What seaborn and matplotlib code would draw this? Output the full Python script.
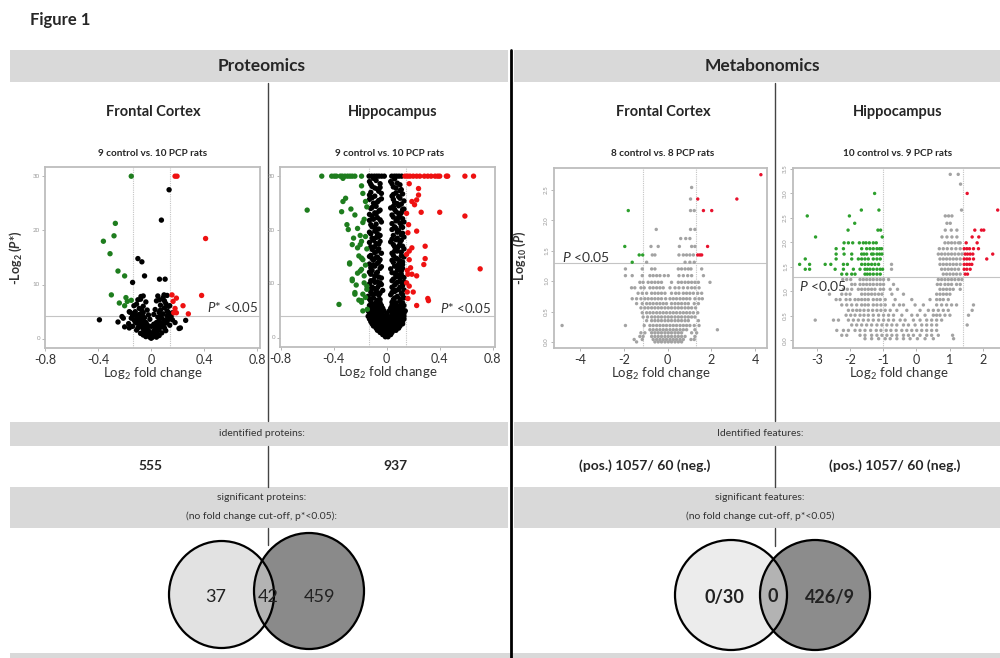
import numpy as np
import pandas as pd
import matplotlib.pyplot as plt
from matplotlib.patches import Rectangle, Ellipse
import seaborn as sns

# ============================================
# DATA
# ============================================

# proteomics, frontal cortex: (log2 fold change, -log2 p*)
prot_fc_ns = [
    (0.00, 0.1), (-0.01, 0.3), (0.01, 0.3), (-0.02, 0.6), (0.02, 0.6), (-0.03, 0.9), (0.03, 0.9),
    (-0.04, 1.2), (0.04, 1.2), (-0.01, 1.0), (0.01, 1.0), (-0.05, 1.5), (0.05, 1.5), (-0.02, 1.5),
    (0.02, 1.5), (-0.06, 1.8), (0.06, 1.8), (-0.03, 2.0), (0.03, 2.0), (-0.07, 2.2), (0.07, 2.2),
    (-0.09, 2.4), (0.09, 2.4), (-0.05, 2.5), (0.05, 2.5), (-0.08, 2.8), (0.08, 2.8), (-0.11, 2.9),
    (0.11, 2.9), (-0.04, 3.0), (0.04, 3.0), (-0.06, 3.2), (0.06, 3.3), (-0.10, 3.4), (0.10, 3.4),
    (-0.13, 3.5), (0.13, 3.6), (-0.08, 3.7), (0.08, 3.8), (-0.05, 3.9), (0.05, 4.0), (-0.11, 4.1),
    (0.12, 4.2), (-0.14, 4.3), (0.15, 4.1), (-0.09, 4.5), (0.09, 4.6), (-0.06, 4.8), (0.06, 4.9),
    (-0.12, 5.0), (0.12, 5.1), (-0.03, 5.3), (0.03, 5.4), (-0.09, 5.6), (0.10, 5.7), (-0.06, 6.0),
    (0.07, 6.2), (-0.11, 6.4), (0.11, 6.5), (-0.04, 6.8), (0.04, 7.0), (-0.08, 7.3), (0.09, 7.6),
    (-0.06, 7.9), (0.12, 8.0), (0.05, 7.9), (-0.03, 2.6), (0.02, 2.7), (-0.15, 3.8), (0.16, 3.5),
    (-0.17, 2.8), (0.18, 3.0), (-0.20, 2.2), (0.21, 1.9), (0.14, 2.5), (-0.14, 2.3), (0.11, 1.5),
    (-0.11, 1.6), (0.08, 1.1), (-0.08, 1.0), (0.06, 0.6), (-0.06, 0.7), (0.04, 0.3), (-0.04, 0.4),
    (0.16, 4.8), (-0.16, 4.9), (0.13, 6.0), (-0.13, 6.1), (0.10, 7.0), (-0.10, 7.2), (0.02, 4.5),
    (-0.02, 4.4), (0.07, 5.3), (-0.07, 5.2), (-0.12, 3.1), (0.12, 3.2), (-0.10, 2.0), (0.10, 2.0),
    (-0.07, 4.2), (0.07, 4.3), (-0.13, 4.7), (0.14, 4.6), (0.00, 2.3), (-0.01, 3.6),
    (0.135, 27.5), (0.077, 21.9), (-0.10, 14.8), (-0.07, 14.2), (-0.05, 11.6), (-0.14, 10.4),
    (0.063, 11.0), (0.105, 11.0), (-0.39, 3.5), (-0.25, 3.1), (-0.22, 4.1), (0.26, 3.4),
    (0.22, 2.0), (-0.165, 2.0), (-0.077, 7.8), (0.097, 8.1), (0.063, 7.2), (0.14, 6.1),
    (0.124, 5.0), (-0.165, 5.0), (-0.21, 3.8),
]
prot_fc_down = [
    (-0.15, 30.0), (-0.27, 21.3), (-0.28, 19.0), (-0.36, 18.0), (-0.31, 15.7), (-0.25, 12.5),
    (-0.20, 11.6), (-0.30, 8.1), (-0.19, 7.6), (-0.24, 6.6), (-0.20, 6.1), (-0.15, 7.1), (-0.18, 6.9),
]
prot_fc_up = [
    (0.18, 30.0), (0.195, 30.0), (0.41, 18.5), (0.38, 8.0), (0.157, 8.1), (0.19, 7.5),
    (0.165, 6.9), (0.24, 6.1), (0.18, 5.6), (0.17, 4.8), (0.19, 4.8), (0.28, 4.6),
]

# proteomics, hippocampus
prot_hc_ns = [
    (-0.133, 30.0), (-0.113, 30.0), (-0.093, 30.0), (-0.075, 30.0), (-0.058, 30.0), (-0.038, 30.0),
    (-0.018, 30.0), (0.038, 30.0), (0.058, 30.0), (0.075, 30.0), (0.093, 30.0), (0.113, 30.0),
    (-0.13, 29.0), (-0.08, 29.2), (-0.05, 28.6), (-0.11, 28.1), (-0.07, 27.6), (-0.12, 27.0),
    (-0.04, 26.8), (-0.09, 26.3), (-0.13, 25.7), (-0.06, 25.5), (-0.10, 25.0), (-0.08, 24.4),
    (-0.12, 24.0), (-0.05, 23.7), (-0.09, 23.2), (-0.11, 22.6), (-0.07, 22.3), (-0.13, 21.8),
    (-0.04, 21.5), (-0.08, 21.1), (-0.11, 20.6), (-0.06, 20.2), (-0.09, 19.8), (-0.12, 19.3),
    (-0.05, 19.0), (-0.08, 18.6), (-0.10, 18.1), (-0.13, 17.7), (-0.06, 17.4), (-0.09, 16.9),
    (-0.11, 16.4), (-0.07, 16.1), (-0.04, 15.7), (-0.12, 15.3), (-0.08, 14.9), (-0.10, 14.4),
    (-0.06, 14.1), (-0.13, 13.7), (-0.09, 13.3), (-0.05, 12.9), (-0.11, 12.5), (-0.07, 12.2),
    (-0.12, 11.8), (-0.09, 11.4), (-0.04, 11.1), (-0.10, 10.7), (-0.07, 10.4), (-0.13, 10.0),
    (-0.06, 9.7), (-0.11, 9.4), (-0.08, 9.0), (-0.03, 8.8), (-0.12, 8.5), (-0.09, 8.2),
    (-0.06, 7.9), (-0.14, 7.7), (-0.10, 7.4), (-0.05, 7.1), (-0.12, 6.8), (-0.08, 6.6),
    (0.03, 29.0), (0.08, 28.7), (0.05, 28.0), (0.11, 27.5), (0.07, 26.9), (0.04, 26.3),
    (0.10, 25.9), (0.13, 25.4), (0.06, 25.1), (0.09, 24.5), (0.03, 24.1), (0.12, 23.8),
    (0.07, 23.4), (0.10, 22.8), (0.05, 22.4), (0.08, 21.9), (0.13, 21.5), (0.04, 21.2),
    (0.11, 20.7), (0.07, 20.3), (0.09, 19.9), (0.12, 19.4), (0.05, 19.0), (0.08, 18.5),
    (0.11, 18.1), (0.03, 17.8), (0.10, 17.3), (0.06, 16.9), (0.13, 16.5), (0.08, 16.1),
    (0.04, 15.7), (0.11, 15.2), (0.07, 14.8), (0.10, 14.3), (0.05, 14.0), (0.12, 13.6),
    (0.08, 13.2), (0.03, 12.8), (0.11, 12.4), (0.06, 12.0), (0.09, 11.6), (0.13, 11.2),
    (0.05, 10.9), (0.10, 10.5), (0.07, 10.1), (0.12, 9.7), (0.04, 9.4), (0.09, 9.0),
    (0.06, 8.6), (0.11, 8.3), (0.03, 8.0), (0.08, 7.7), (0.13, 7.4), (0.05, 7.1),
    (0.10, 6.8), (0.07, 6.5),
    (-0.10, 29.6), (-0.06, 27.2), (-0.11, 26.0), (-0.08, 23.0), (-0.12, 21.0), (-0.06, 18.8),
    (-0.10, 16.8), (-0.07, 15.0), (-0.12, 13.0), (-0.05, 10.2), (-0.10, 9.2), (-0.07, 8.4),
    (-0.04, 25.8), (-0.09, 20.5), (-0.05, 14.5),
    (0.06, 29.5), (0.10, 27.3), (0.05, 25.7), (0.09, 23.1), (0.06, 20.6), (0.11, 19.1),
    (0.09, 17.0), (0.05, 15.3), (0.10, 13.0), (0.07, 11.3), (0.12, 10.0), (0.05, 8.9),
    (0.08, 24.9), (0.12, 22.1), (0.04, 18.3),
    (-0.12, 28.5), (-0.05, 27.9), (-0.09, 27.8), (-0.13, 26.5), (-0.07, 25.2), (-0.11, 24.2),
    (-0.06, 23.5), (-0.13, 22.9), (-0.10, 22.0), (-0.05, 21.9), (-0.08, 20.0), (-0.13, 19.6),
    (-0.07, 19.3), (-0.11, 18.5), (-0.05, 17.9), (-0.08, 17.5), (-0.12, 16.9), (-0.06, 16.5),
    (-0.09, 15.8), (-0.13, 15.1), (-0.11, 14.7), (-0.07, 13.8), (-0.10, 13.5), (-0.04, 13.2),
    (-0.13, 12.2), (-0.08, 11.9), (-0.06, 11.3), (-0.12, 10.6), (-0.09, 10.3), (-0.04, 9.9),
    (-0.12, 9.0), (-0.07, 9.3), (-0.11, 8.1), (-0.05, 8.3), (-0.13, 7.2), (-0.07, 7.0),
    (-0.11, 6.3), (-0.05, 6.5),
    (0.04, 28.6), (0.10, 28.4), (0.07, 27.8), (0.12, 26.7), (0.05, 26.6), (0.09, 26.2),
    (0.11, 24.8), (0.05, 24.4), (0.13, 23.9), (0.06, 23.8), (0.11, 23.2), (0.04, 22.8),
    (0.09, 22.4), (0.07, 21.7), (0.10, 21.3), (0.12, 20.5), (0.04, 20.1), (0.08, 19.6),
    (0.13, 18.7), (0.07, 18.2), (0.10, 17.8), (0.05, 17.3), (0.12, 17.0), (0.08, 16.6),
    (0.06, 16.1), (0.11, 15.9), (0.13, 15.0), (0.08, 14.6), (0.04, 14.4), (0.12, 14.1),
    (0.09, 13.7), (0.06, 13.3), (0.12, 12.9), (0.08, 12.5), (0.04, 12.1), (0.11, 11.8),
    (0.07, 11.6), (0.10, 11.1), (0.04, 10.6), (0.13, 10.4), (0.08, 10.3), (0.06, 9.8),
    (0.10, 9.4), (0.13, 8.9), (0.07, 8.8), (0.04, 8.4), (0.12, 8.0), (0.10, 7.2),
    (0.06, 7.4), (0.12, 6.5), (0.04, 6.6),
    (-0.01, 0.2), (0.01, 0.2), (-0.03, 0.6), (0.00, 0.6), (0.03, 0.6),
    (-0.05, 1.0), (-0.02, 1.0), (0.01, 1.0), (0.04, 1.0),
    (-0.07, 1.4), (-0.04, 1.4), (-0.01, 1.4), (0.02, 1.4), (0.05, 1.4), (0.07, 1.4),
    (-0.08, 1.8), (-0.05, 1.8), (-0.02, 1.8), (0.01, 1.8), (0.04, 1.8), (0.07, 1.8), (0.09, 1.8),
    (-0.10, 2.2), (-0.07, 2.2), (-0.04, 2.2), (-0.01, 2.2), (0.02, 2.2), (0.05, 2.2), (0.08, 2.2),
    (0.10, 2.2), (-0.11, 2.6), (-0.08, 2.6), (-0.05, 2.6), (-0.02, 2.6), (0.01, 2.6), (0.04, 2.6),
    (0.07, 2.6), (0.10, 2.6), (0.12, 2.6), (-0.12, 3.0), (-0.09, 3.0), (-0.06, 3.0), (-0.03, 3.0),
    (0.00, 3.0), (0.03, 3.0), (0.06, 3.0), (0.09, 3.0), (0.12, 3.0), (-0.13, 3.5), (-0.10, 3.5),
    (-0.07, 3.5), (-0.04, 3.5), (-0.01, 3.5), (0.02, 3.5), (0.05, 3.5), (0.08, 3.5), (0.11, 3.5),
    (0.13, 3.5), (-0.14, 4.0), (-0.11, 4.0), (-0.08, 4.0), (-0.05, 4.0), (-0.02, 4.0), (0.01, 4.0),
    (0.04, 4.0), (0.07, 4.0), (0.10, 4.0), (0.13, 4.0), (-0.13, 4.5), (-0.10, 4.5), (-0.07, 4.5),
    (-0.04, 4.5), (0.00, 4.5), (0.04, 4.5), (0.07, 4.5), (0.10, 4.5), (0.13, 4.5), (-0.14, 5.0),
    (-0.11, 5.0), (-0.08, 5.0), (-0.05, 5.0), (-0.02, 5.0), (0.02, 5.0), (0.05, 5.0), (0.08, 5.0),
    (0.11, 5.0), (0.14, 5.0), (-0.12, 5.5), (-0.09, 5.5), (-0.06, 5.5), (-0.03, 5.5), (0.03, 5.5),
    (0.06, 5.5), (0.09, 5.5), (0.12, 5.5), (-0.13, 6.0), (-0.10, 6.0), (-0.07, 6.0), (-0.04, 6.0),
    (0.04, 6.0), (0.07, 6.0), (0.10, 6.0), (0.13, 6.0),
]
prot_hc_down = [
    (-0.49, 30.0), (-0.415, 30.0), (-0.395, 30.0), (-0.38, 30.0), (-0.35, 30.0), (-0.335, 30.0),
    (-0.315, 30.0), (-0.295, 30.0), (-0.277, 30.0), (-0.26, 30.0), (-0.24, 30.0), (-0.19, 30.0),
    (-0.33, 29.6), (-0.19, 28.2), (-0.18, 26.8), (-0.33, 25.3), (-0.16, 25.3), (-0.34, 23.4),
    (-0.60, 23.7), (-0.27, 23.9), (-0.24, 22.8), (-0.30, 21.0), (-0.29, 20.1), (-0.22, 20.3),
    (-0.19, 17.9), (-0.22, 16.7), (-0.21, 15.2), (-0.28, 13.9), (-0.18, 14.5), (-0.19, 12.7),
    (-0.17, 11.5), (-0.26, 10.9), (-0.23, 9.8), (-0.36, 6.2), (-0.19, 6.6), (-0.18, 5.0),
    (-0.24, 8.1), (-0.15, 9.0), (-0.16, 13.5), (-0.20, 19.0), (-0.25, 18.5), (-0.17, 22.0),
    (-0.15, 16.5), (-0.22, 12.0), (-0.17, 10.2), (-0.16, 7.5), (-0.21, 7.0), (-0.15, 24.3),
    (-0.31, 25.9), (-0.26, 17.3), (-0.16, 18.8), (-0.18, 21.4), (-0.28, 13.7), (-0.20, 17.3),
    (-0.19, 14.8), (-0.20, 12.4), (-0.26, 10.6), (-0.24, 8.4), (-0.19, 6.9), (-0.15, 9.6),
    (-0.146, 5.3), (-0.18, 8.1),
]
prot_hc_up = [
    (0.138, 30.0), (0.158, 30.0), (0.176, 30.0), (0.20, 30.0), (0.226, 30.0), (0.25, 30.0),
    (0.284, 30.0), (0.31, 30.0), (0.335, 30.0), (0.365, 30.0), (0.385, 30.0), (0.40, 30.0),
    (0.45, 30.0), (0.46, 30.0), (0.59, 30.0), (0.655, 30.0),
    (0.17, 28.6), (0.24, 27.7), (0.24, 26.5), (0.226, 25.6), (0.21, 24.7), (0.19, 25.3),
    (0.15, 23.1), (0.26, 23.3), (0.40, 23.3), (0.59, 22.6), (0.226, 19.8), (0.16, 19.5),
    (0.29, 17.0), (0.19, 16.7), (0.17, 16.1), (0.29, 14.7), (0.17, 14.5), (0.28, 13.6),
    (0.705, 12.8), (0.16, 11.8), (0.19, 11.8), (0.226, 11.5), (0.15, 10.2), (0.17, 9.6),
    (0.31, 7.3), (0.16, 7.3), (0.226, 6.0), (0.315, 6.9), (0.155, 12.5), (0.165, 21.0),
    (0.15, 15.5), (0.18, 13.0), (0.20, 8.5), (0.155, 8.5),
]

# metabonomics, frontal cortex: rows of (-log10 p, [log2 fold changes])
met_fc_ns = [
    (2.54, [1.10]),
    (2.35, [1.05]),
    (2.16, [1.05, 1.22]),
    (1.85, [-0.52, 1.05, 1.25]),
    (1.70, [0.60, 0.83, 1.02]),
    (1.57, [-0.76, -0.43, 0.54, 1.10, 1.25]),
    (1.43, [-0.70, -0.58, 0.52, 0.72, 0.87, 1.02, 1.18]),
    (1.31, [-0.96, 0.80, 1.02, 1.22]),
    (1.20, [-1.93, -1.16, -0.73, -0.58, 0.49, 0.64, 0.80, 0.95, 1.07, 1.56]),
    (1.09, [-1.93, -1.62, -1.16, -0.81, -0.66, -0.50, -0.35, -0.15, 0.03, 0.52, 0.72, 0.92, 1.10, 1.64]),
    (0.98, [-1.27, -1.12, -0.89, -0.73, -0.58, -0.43, -0.28, 0.18, 0.49, 0.64, 0.80, 0.95, 1.10,
            1.25, 1.41, 1.94]),
    (0.89, [-1.65, -1.50, -1.22, -1.07, -0.81, -0.66, -0.50, -0.35, -0.20, 0.11, 0.34, 0.52, 0.72,
            0.92, 1.10, 1.25, 1.44]),
    (0.80, [-1.35, -1.16, -0.96, -0.73, -0.58, -0.43, -0.28, -0.12, 0.18, 0.37, 0.52, 0.72, 0.87,
            1.02, 1.18, 1.38, 1.56]),
    (0.71, [-1.62, -1.42, -1.22, -1.04, -0.89, -0.73, -0.58, -0.43, -0.28, -0.09, 0.11, 0.26, 0.41,
            0.57, 0.72, 0.87, 1.02, 1.25, 1.44, 1.59]),
    (0.63, [-1.42, -1.16, -0.96, -0.81, -0.66, -0.50, -0.35, -0.20, -0.05, 0.18, 0.34, 0.49, 0.64,
            0.80, 0.95, 1.22, 1.41]),
    (0.56, [-1.22, -1.04, -0.89, -0.73, -0.58, -0.43, -0.28, -0.12, 0.03, 0.18, 0.34, 0.49, 0.64,
            0.80, 0.95, 1.10, 1.28]),
    (0.48, [-1.16, -0.96, -0.81, -0.66, -0.50, -0.35, -0.20, -0.05, 0.11, 0.26, 0.41, 0.57, 0.72,
            0.87, 1.02, 1.18, 1.38]),
    (0.41, [-1.12, -0.92, -0.73, -0.58, -0.43, -0.28, -0.12, 0.03, 0.18, 0.34, 0.49, 0.64, 0.80,
            0.95, 1.10, 1.25]),
    (0.35, [-0.96, -0.73, -0.58, -0.43, -0.28, -0.12, 0.03, 0.18, 0.34, 0.49, 0.64, 0.80, 0.95, 1.41]),
    (0.27, [-4.83, -1.93, -1.07, -0.81, -0.66, -0.50, -0.35, -0.20, -0.05, 0.11, 0.26, 0.41, 0.57,
            0.72, 0.87, 1.02, 1.22, 1.44]),
    (0.20, [-0.81, -0.66, -0.50, -0.35, -0.20, -0.05, 0.11, 0.26, 0.41, 0.57, 0.72, 0.87, 1.25, 2.28]),
    (0.15, [-1.22, -1.04, -0.73, -0.58, -0.43, -0.28, -0.12, 0.03, 0.18, 0.34, 0.49, 0.64, 1.10, 1.33]),
    (0.09, [-1.27, -1.12, -0.73, -0.58, -0.43, -0.28, -0.12, 0.03, 0.18, 0.34, 0.49, 0.64, 0.80, 1.25]),
    (0.04, [-1.53, -1.16, -0.66, -0.50, -0.35, -0.20, -0.05, 0.11, 0.26, 0.41, 0.57, 0.72, 1.07, 1.22]),
    (0.00, [-1.42, -0.58, -0.43, -0.28, -0.12, 0.03, 0.18, 0.34, 0.49, 0.64]),
]
met_fc_down = [(2.16, [-1.80]), (1.57, [-1.96]), (1.43, [-1.30, -1.14]), (1.31, [-1.62])]
met_fc_up = [(2.75, [4.27]), (2.35, [1.38, 3.17]), (2.16, [1.64, 2.02]), (1.57, [1.83]),
             (1.43, [1.38, 1.48, 1.56])]

# metabonomics, hippocampus
met_hc_ns = [
    (3.39, [1.02, 1.26]),
    (3.19, [1.33]),
    (2.66, [1.36]),
    (2.54, [0.87, 0.97, 1.07]),
    (2.39, [0.92, 1.02]),
    (2.25, [0.87, 1.05, 1.22]),
    (2.11, [0.77, 0.92, 1.07, 1.22]),
    (1.99, [0.86, 0.96, 1.06, 1.16, 1.27, 1.32]),
    (1.87, [0.69, 0.81, 0.93, 1.06, 1.19, 1.32]),
    (1.76, [0.66, 0.76, 0.86, 0.96, 1.06, 1.16, 1.27, 1.37]),
    (1.66, [0.71, 0.81, 0.91, 1.01, 1.11, 1.21, 1.32]),
    (1.55, [-0.75, 0.71, 0.81, 0.91, 1.01, 1.11, 1.21, 1.32]),
    (1.45, [-0.75, 0.76, 0.86, 0.96, 1.06, 1.16, 1.27]),
    (1.35, [0.81, 0.91, 1.01, 1.11, 1.21, 1.32]),
    (1.24, [-2.22, -2.10, -1.98, -1.70, -1.60, -1.50, -1.40, -1.30, -1.19, -1.09, -0.99, -0.84, 0.66,
            0.76, 0.86, 0.96, 1.06, 1.16, 1.27, 1.37]),
    (1.14, [-1.95, -1.85, -1.70, -1.60, -1.50, -1.40, -1.30, -1.19, -1.09, -0.99, -0.69, 0.63, 0.73,
            0.86, 0.96, 1.06, 1.21, 1.32]),
    (1.04, [-2.20, -2.08, -1.95, -1.75, -1.65, -1.55, -1.45, -1.35, -1.25, -1.09, -0.99, -0.79, -0.57,
            0.71, 0.81, 0.91, 1.01, 1.11, 1.32]),
    (0.94, [-2.62, -2.25, -2.12, -2.00, -1.65, -1.55, -1.45, -1.35, -1.25, -1.14, -1.04, -0.74, -0.39,
            0.61, 0.71, 0.81, 0.91, 1.01]),
    (0.83, [-2.42, -2.30, -2.12, -2.00, -1.85, -1.75, -1.65, -1.55, -1.45, -1.30, -1.19, -1.09, -0.94,
            -0.64, -0.14, 0.41, 0.61, 0.71, 0.81, 0.96]),
    (0.72, [-2.25, -2.10, -1.95, -1.80, -1.65, -1.55, -1.45, -1.30, -1.19, -1.07, -0.94, -0.69, -0.51,
            -0.39, -0.04, 0.21, 0.61, 0.76, 0.91, 1.06, 1.21, 1.72]),
    (0.61, [-2.05, -1.92, -1.80, -1.70, -1.58, -1.45, -1.32, -1.19, -1.07, -0.94, -0.79, -0.59, -0.29,
            0.11, 0.36, 0.51, 0.66, 0.81, 0.96, 1.68]),
    (0.51, [-2.12, -1.98, -1.85, -1.70, -1.58, -1.45, -1.30, -1.14, -0.99, -0.84, -0.69, -0.44, -0.14,
            0.03, 0.26, 0.51, 0.61, 0.71, 0.86, 1.01, 1.57]),
    (0.41, [-3.05, -2.50, -2.35, -2.05, -1.90, -1.75, -1.60, -1.45, -1.30, -1.14, -0.99, -0.84, -0.69,
            -0.49, -0.34, -0.09, 0.11, 0.31, 0.46, 0.61, 0.76]),
    (0.31, [-1.95, -1.80, -1.65, -1.50, -1.35, -1.19, -1.04, -0.89, -0.74, -0.59, -0.39, -0.24, -0.04,
            0.16, 0.31, 0.46, 0.61, 1.53]),
    (0.20, [-2.40, -2.20, -2.05, -1.85, -1.70, -1.55, -1.38, -1.21, -1.07, -0.91, -0.77, -0.61, -0.44,
            -0.29, -0.14, 0.01, 0.16, 0.31, 0.46, 0.61]),
    (0.10, [-2.25, -2.10, -1.70, -1.55, -1.35, -1.19, -1.04, -0.89, -0.74, -0.59, -0.39, -0.24, -0.09,
            0.11, 0.31, 0.46, 0.66, 1.09]),
    (0.03, [-1.55, -1.35, -1.14, -0.94, -0.79, -0.59, -0.39, -0.19, 0.03, 0.26, 0.51, 1.12]),
]
met_hc_down = [
    (3.00, [-1.26]),
    (2.66, [-1.66, -1.13]),
    (2.54, [-3.29, -2.02]),
    (2.39, [-1.86]),
    (2.25, [-2.06, -1.16, -1.08]),
    (2.11, [-3.04, -1.03]),
    (1.99, [-2.18, -2.05, -1.92, -1.72, -1.60, -1.52, -1.42, -1.30, -1.21]),
    (1.87, [-2.42, -2.20, -1.65, -1.50, -1.40, -1.30, -1.19, -1.11, -1.05]),
    (1.76, [-2.42, -2.18, -1.95, -1.65, -1.58, -1.50, -1.35, -1.30, -1.19, -1.11, -1.04]),
    (1.66, [-3.35, -2.42, -1.95, -1.75, -1.65, -1.55, -1.45, -1.30, -1.19, -1.09]),
    (1.55, [-3.52, -3.22, -2.75, -2.58, -2.20, -2.08, -1.65, -1.55, -1.45, -1.35, -1.25, -1.14]),
    (1.45, [-3.35, -3.22, -2.45, -2.20, -1.90, -1.70, -1.55, -1.48, -1.40, -1.30, -1.19, -1.09, -1.02]),
    (1.35, [-2.25, -2.10, -1.95, -1.85, -1.55, -1.48, -1.40, -1.30, -1.19, -1.09]),
]
met_hc_up = [
    (3.00, [1.53]),
    (2.66, [2.45]),
    (2.25, [1.76, 1.96, 2.03]),
    (2.11, [1.68, 1.88]),
    (1.99, [1.50, 1.83]),
    (1.87, [1.44, 1.52, 1.60, 1.72, 1.87]),
    (1.76, [1.47, 1.54, 1.62, 1.70, 2.30]),
    (1.66, [1.44, 1.52, 1.60, 1.72, 2.12]),
    (1.55, [1.44, 1.52, 1.60, 1.67]),
    (1.45, [1.44, 1.52, 1.62]),
    (1.35, [1.47, 1.54]),
]

# table texts
venn_prot = ["37", "42", "459"]
venn_met = ["0/30", "0", "426/9"]
identified = ["555", "937", "(pos.) 1057/ 60 (neg.)", "(pos.) 1057/ 60 (neg.)"]
subtitles = ["9 control vs. 10 PCP rats", "9 control vs. 10 PCP rats",
             "8 control vs. 8 PCP rats", "10 control vs. 9 PCP rats"]

# ============================================
# STYLE
# ============================================

sns.set_theme(style="white")
plt.rcParams['font.family'] = ['Lato', 'DejaVu Sans']
plt.rcParams['mathtext.fontset'] = 'custom'
plt.rcParams['mathtext.rm'] = 'Lato'
plt.rcParams['mathtext.it'] = 'Lato:italic'
plt.rcParams['mathtext.bf'] = 'Lato:bold'
plt.rcParams['mathtext.bfit'] = 'Lato:italic:bold'

W, H = 1000, 658
GREY_BAND = '#d9d9d9'

fig = plt.figure(figsize=(10, 6.58), dpi=100)
bg = fig.add_axes([0, 0, 1, 1])
bg.set_xlim(0, W)
bg.set_ylim(H, 0)
bg.axis('off')


def band(x0, y0, x1, y1):
    bg.add_patch(Rectangle((x0, y0), x1 - x0, y1 - y0, color=GREY_BAND, lw=0, zorder=0))


def vline(x, y0, y1, lw=1.0, color='#444444'):
    bg.plot([x, x], [y0, y1], color=color, lw=lw, zorder=2)


def frame_pairs(ns, down, up):
    rows = [(x, y, 'ns') for x, y in ns] + [(x, y, 'down') for x, y in down] + \
           [(x, y, 'up') for x, y in up]
    return pd.DataFrame(rows, columns=['fc', 'p', 'grp'])


def frame_rows(ns, down, up):
    flat = lambda rows: [(x, p) for p, xs in rows for x in xs]
    return frame_pairs(flat(ns), flat(down), flat(up))


def volcano(box, df, colors, size, xlim, ylim, xticks, yticks, ytick_fmt, vlines, hline,
            note, note_xy, note_size, rotate_y=False):
    x0, y0, x1, y1 = box
    ax = fig.add_axes([x0 / W, 1 - y1 / H, (x1 - x0) / W, (y1 - y0) / H])
    ax.axhline(hline, color='#c4c4c4', lw=0.8, zorder=0)
    for v in vlines:
        ax.axvline(v, color='#c4c4c4', lw=0.8, ls=(0, (1, 1)), zorder=0)
    sns.scatterplot(data=df, x='fc', y='p', hue='grp', palette=colors, s=size,
                    linewidth=0, legend=False, ax=ax, zorder=3)
    ax.set_xlim(*xlim)
    ax.set_ylim(*ylim)
    ax.set_xticks(xticks)
    ax.set_xticklabels(['%g' % t for t in xticks], fontsize=9, color='#333333')
    ax.set_yticks(yticks)
    ax.set_yticklabels([ytick_fmt % t for t in yticks], fontsize=4.5, color='#999999',
                       rotation=90 if rotate_y else 0, va='center')
    ax.tick_params(axis='both', bottom=True, left=True, length=2, width=0.6, color='#aaaaaa', pad=1.5)
    ax.tick_params(axis='x', pad=2)
    for s in ax.spines.values():
        s.set_color('#bdbdbd')
        s.set_linewidth(1.3)
    ax.set_xlabel('Log$_2$ fold change', fontsize=9.5, color='#333333')
    ax.xaxis.set_label_coords(0.5, -0.10)
    ax.set_ylabel('')
    ax.text(note_xy[0], note_xy[1], note, fontsize=note_size, color='#333333',
            ha='left', va='center', zorder=4)
    return ax


# ============================================
# TABLE LAYOUT
# ============================================

bg.text(30, 20, 'Figure 1', fontsize=12, fontweight='bold', ha='left', va='center')

band(10, 50, 508, 82)
band(514, 50, 1000, 82)
bg.text(262, 66, 'Proteomics', fontsize=12.5, fontweight='bold', ha='center', va='center')
bg.text(762, 66, 'Metabonomics', fontsize=12.5, fontweight='bold', ha='center', va='center')

for xc, name in [(153, 'Frontal Cortex'), (393, 'Hippocampus'), (663, 'Frontal Cortex'),
                 (898, 'Hippocampus')]:
    bg.text(xc, 112, name, fontsize=10.5, fontweight='bold', ha='center', va='center')
for xc, sub in zip([153, 390, 663, 898], subtitles):
    bg.text(xc, 153, sub, fontsize=7.2, fontweight='bold', ha='center', va='center')

vline(268, 83, 421)
vline(775, 83, 421)

band(10, 422, 508, 446)
band(514, 422, 1000, 446)
bg.text(262, 434, 'identified proteins:', fontsize=7.5, ha='center', va='center', color='#333333')
bg.text(760, 434, 'Identified features:', fontsize=7.5, ha='center', va='center', color='#333333')

for xc, num in zip([150, 395, 645, 895], identified):
    bg.text(xc, 466, num, fontsize=10, fontweight='bold', ha='center', va='center')
vline(268, 446, 487)
vline(775, 446, 487)

band(10, 487, 508, 528)
band(514, 487, 1000, 528)
bg.text(262, 498, 'significant proteins:', fontsize=7.5, ha='center', va='center', color='#333333')
bg.text(262, 516, '(no fold change cut-off, p*<0.05):', fontsize=7.5, ha='center', va='center',
        color='#333333')
bg.text(760, 498, 'significant features:', fontsize=7.5, ha='center', va='center', color='#333333')
bg.text(760, 516, '(no fold change cut-off, p*<0.05)', fontsize=7.5, ha='center', va='center',
        color='#333333')
vline(268, 528, 545)
vline(775, 528, 546)

band(10, 653, 1000, 658)

vline(511, 50, 658, lw=2.0, color='black')


def venn(left, right, c_left, c_mid, c_right, labels, xs, weight):
    a = Ellipse(left[:2], left[2], left[3], facecolor=c_left, edgecolor='none', zorder=3)
    b = Ellipse(right[:2], right[2], right[3], facecolor=c_right, edgecolor='none', zorder=3)
    bg.add_patch(a)
    bg.add_patch(b)
    mid = Ellipse(left[:2], left[2], left[3], facecolor=c_mid, edgecolor='none', zorder=4)
    bg.add_patch(mid)
    mid.set_clip_path(b)
    for e in (left, right):
        bg.add_patch(Ellipse(e[:2], e[2], e[3], facecolor='none', edgecolor='black', lw=1.6, zorder=5))
    for x, lab in zip(xs, labels):
        bg.text(x, 597, lab, fontsize=13, fontweight=weight, ha='center', va='center',
                color='#222222', zorder=6)


venn((221.5, 594.5, 105, 107), (309, 591, 110, 116), '#e2e2e2', '#b3b3b3', '#8a8a8a',
     venn_prot, [216, 268, 320], 'normal')
venn((731, 595, 112, 110), (815, 595, 110, 110), '#ececec', '#b3b3b3', '#8c8c8c',
     venn_met, [724, 773, 830], 'bold')

# ============================================
# VOLCANO PLOTS
# ============================================

prot_colors = {'ns': 'black', 'down': '#1e7d1e', 'up': '#ee1111'}
met_colors = {'ns': '#a3a3a3', 'down': '#2da02d', 'up': '#e8112d'}

ax1 = volcano((45, 167, 260, 348), frame_pairs(prot_fc_ns, prot_fc_down, prot_fc_up),
              prot_colors, 15, (-0.80, 0.82), (-1.7, 31.7), [-0.8, -0.4, 0, 0.4, 0.8],
              [0, 10, 20, 30], '%d', [-0.14, 0.145], 4.2, '$P$* <0.05', (0.42, 5.9), 9.5)
ax1.set_ylabel('-Log$_{\\mathbf{2}}$ ($\\mathbfit{P}$*)', fontsize=9, fontweight='bold', color='#333333')
ax1.yaxis.set_label_coords(-0.10, 0.5)

ax2 = volcano((280, 167, 495, 347), frame_pairs(prot_hc_ns, prot_hc_down, prot_hc_up),
              prot_colors, 15, (-0.805, 0.817), (-1.7, 31.7), [-0.8, -0.4, 0, 0.4, 0.8],
              [0, 10, 20, 30], '%d', [-0.135, 0.145], 4.1, '$P$* <0.05', (0.40, 5.6), 9.5)

ax3 = volcano((554, 168, 767, 348), frame_rows(met_fc_ns, met_fc_down, met_fc_up),
              met_colors, 6, (-5.2, 4.55), (-0.10, 2.86), [-4, -2, 0, 2, 4],
              [0.0, 0.5, 1.0, 1.5, 2.0, 2.5], '%.1f', [-1.12, 1.30], 1.30, '$P$ <0.05',
              (-4.85, 1.40), 10, rotate_y=True)
ax3.set_ylabel('-Log$_{\\mathbf{10}}$ ($\\mathbfit{P}$)', fontsize=9, fontweight='bold', color='#333333')
ax3.yaxis.set_label_coords(-0.12, 0.5)

ax4 = volcano((793, 168, 1005, 348), frame_rows(met_hc_ns, met_hc_down, met_hc_up),
              met_colors, 6, (-3.72, 2.67), (-0.16, 3.52), [-3, -2, -1, 0, 1, 2],
              [0.0, 0.5, 1.0, 1.5, 2.0, 2.5, 3.0, 3.5], '%.1f', [-1.0, 1.4], 1.30, '$P$ <0.05',
              (-3.55, 1.10), 10, rotate_y=True)

fig.savefig('out.png', dpi=100)
